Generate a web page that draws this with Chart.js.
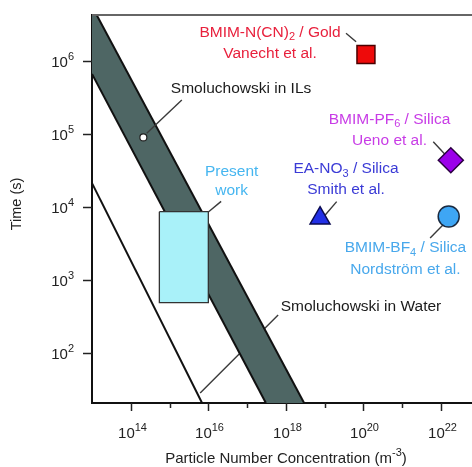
<!DOCTYPE html>
<html>
<head>
<meta charset="utf-8">
<script src="https://cdn.jsdelivr.net/npm/chart.js@4.4.0/dist/chart.umd.min.js"></script>
<style>
  html, body { margin: 0; padding: 0; background: #fff; }
</style>
</head>
<body>
<canvas id="grafico" width="472" height="467"></canvas>
<script>
// ejes (exponentes de 10)
var xTicksExp = [14, 15, 16, 17, 18, 19, 20, 21, 22];
var yTicksExp = [2, 3, 4, 5, 6];
var xRange = [1.0e13, 6.3e22];
var yRange = [20.8, 4.34e6];

// Smoluchowski en ILs (banda)
var ilsUpper = [[1.32e13, 4.34e6], [2.95e18, 20.8]];
var ilsLower = [[1.0e13, 6.76e5], [3.05e17, 20.8]];
var ilsBand = [[1.0e13, 4.34e6], [1.32e13, 4.34e6], [2.95e18, 20.8], [3.05e17, 20.8], [1.0e13, 6.76e5], [1.0e13, 4.34e6]];
var ilsDot = [[2.11e14, 9.1e4]];

// Smoluchowski en agua
var waterLine = [[1.0e13, 2.15e4], [6.9e15, 20.8]];

// este trabajo
var presentBox = [[5.46e14, 8.73e3], [1.0e16, 8.73e3], [1.0e16, 494], [5.46e14, 494], [5.46e14, 8.73e3]];

// literatura: Vanecht, Ueno, Smith, Nordstrom
var litX = [1.16e20, 1.79e22, 7.6e18, 1.58e22];
var litY = [1.25e6, 4.43e4, 7.1e3, 7.5e3];

// lineas guia de las etiquetas
var leaderIls = [[2.58e14, 1.04e5], [2.07e15, 2.96e5]];
var leaderVanecht = [[3.55e19, 2.44e6], [6.46e19, 1.87e6]];
var leaderUeno = [[6.31e21, 7.96e4], [1.26e22, 5.35e4]];
var leaderSmith = [[2.04e19, 1.2e4], [1.02e19, 7.8e3]];
var leaderNordstrom = [[1.12e22, 5.74e3], [5.25e21, 3.8e3]];
var leaderPresent = [[1.0e16, 8.63e3], [2.14e16, 1.21e4]];
var leaderWater = [[6.31e17, 335], [6.17e15, 28.6]];

var FUENTE = '"Liberation Sans", Arial, sans-serif';

function pts(arr) {
    return arr.map(function (p) { return { x: p[0], y: p[1] }; });
}

// etiquetas de texto (x, y = centro de la primera linea)
var etiquetas = [
    { x: 3.9e17, y: 2.48e6, color: '#e8203c', gap: 21,
      lines: [[['BMIM-N(CN)', 'n'], ['2', 'sub'], [' / Gold', 'n']], [['Vanecht et al.', 'n']]] },
    { x: 6.98e16, y: 4.27e5, color: '#1a1a1a', gap: 21,
      lines: [[['Smoluchowski in ILs', 'n']]] },
    { x: 4.7e20, y: 1.6e5, color: '#c83ce6', gap: 21.5,
      lines: [[['BMIM-PF', 'n'], ['6', 'sub'], [' / Silica', 'n']], [['Ueno et al.', 'n']]] },
    { x: 3.98e16, y: 3.08e4, color: '#46b6f0', gap: 18.5,
      lines: [[['Present', 'n']], [['work', 'n']]] },
    { x: 3.55e19, y: 3.36e4, color: '#3b3bd6', gap: 21,
      lines: [[['EA-NO', 'n'], ['3', 'sub'], [' / Silica', 'n']], [['Smith et al.', 'n']]] },
    { x: 1.21e21, y: 2.77e3, color: '#48a8ec', gap: 22,
      lines: [[['BMIM-BF', 'n'], ['4', 'sub'], [' / Silica', 'n']], [['Nordström et al.', 'n']]] },
    { x: 8.65e19, y: 432, color: '#1a1a1a', gap: 21,
      lines: [[['Smoluchowski in Water', 'n']]] }
];

function textoRico(ctx, partes, cx, cy, size, color, align) {
    var small = Math.round(size * 0.72);
    var anchos = [];
    var total = 0;
    partes.forEach(function (p) {
        ctx.font = (p[1] === 'n' ? size : small) + 'px ' + FUENTE;
        var w = ctx.measureText(p[0]).width;
        anchos.push(w);
        total += w;
    });
    var x = align === 'right' ? cx - total : cx - total / 2;
    ctx.fillStyle = color;
    ctx.textBaseline = 'middle';
    ctx.textAlign = 'left';
    partes.forEach(function (p, i) {
        var dy = 0;
        if (p[1] === 'sub') dy = size * 0.3;
        if (p[1] === 'sup') dy = -size * 0.42;
        ctx.font = (p[1] === 'n' ? size : small) + 'px ' + FUENTE;
        ctx.fillText(p[0], x, cy + dy);
        x += anchos[i];
    });
}

var decoracion = {
    id: 'decoracion',
    afterDraw: function (chart) {
        var ctx = chart.ctx;
        var area = chart.chartArea;
        var xs = chart.scales.x;
        var ys = chart.scales.y;
        ctx.save();

        // borde superior
        ctx.strokeStyle = '#666';
        ctx.lineWidth = 2;
        ctx.beginPath();
        ctx.moveTo(area.left, area.top);
        ctx.lineTo(area.right, area.top);
        ctx.stroke();

        // marcas del eje x
        ctx.strokeStyle = '#222';
        ctx.lineWidth = 1.5;
        xTicksExp.forEach(function (e) {
            var px = Math.round(xs.getPixelForValue(Math.pow(10, e))) + 0.5;
            var largo = e % 2 === 0 ? 8 : 5;
            ctx.beginPath();
            ctx.moveTo(px, area.bottom);
            ctx.lineTo(px, area.bottom + largo);
            ctx.stroke();
            if (e % 2 === 0) {
                textoRico(ctx, [['10', 'n'], [String(e), 'sup']], px + 1, area.bottom + 31, 15, '#222', 'center');
            }
        });

        // marcas del eje y
        yTicksExp.forEach(function (e) {
            var py = Math.round(ys.getPixelForValue(Math.pow(10, e))) + 0.5;
            ctx.beginPath();
            ctx.moveTo(area.left - 9, py);
            ctx.lineTo(area.left, py);
            ctx.stroke();
            textoRico(ctx, [['10', 'n'], [String(e), 'sup']], 74, py + 1.5, 15, '#222', 'right');
        });

        // titulos de ejes
        textoRico(ctx, [['Particle Number Concentration (m', 'n'], ['-3', 'sup'], [')', 'n']], 286, 459, 15, '#222', 'center');
        ctx.save();
        ctx.translate(17, 204);
        ctx.rotate(-Math.PI / 2);
        textoRico(ctx, [['Time (s)', 'n']], 0, 0, 14.5, '#222', 'center');
        ctx.restore();

        // etiquetas
        etiquetas.forEach(function (et) {
            var cx = xs.getPixelForValue(et.x);
            var cy = ys.getPixelForValue(et.y);
            et.lines.forEach(function (linea, i) {
                textoRico(ctx, linea, cx, cy + i * et.gap, 15.5, et.color, 'center');
            });
        });
        ctx.restore();
    }
};

function lineaGuia(arr, orden) {
    return {
        data: pts(arr), borderColor: '#3a3a3a', borderWidth: 1.4,
        pointRadius: 0, fill: false, order: orden
    };
}

var datos = {
    datasets: [
        lineaGuia(leaderWater, 20),
        {
            data: pts(ilsBand), borderColor: 'rgba(0,0,0,0)', borderWidth: 1,
            backgroundColor: '#4e6664', fill: 'shape', pointRadius: 0, order: 19
        },
        { data: pts(ilsUpper), borderColor: '#111', borderWidth: 2, pointRadius: 0, fill: false, order: 18 },
        { data: pts(ilsLower), borderColor: '#111', borderWidth: 2, pointRadius: 0, fill: false, order: 18 },
        { data: pts(waterLine), borderColor: '#111', borderWidth: 2, pointRadius: 0, fill: false, order: 18 },
        {
            data: pts(presentBox), borderColor: '#333', borderWidth: 1.3,
            backgroundColor: '#a9f1f9', fill: 'shape', pointRadius: 0, order: 17
        },
        lineaGuia(leaderIls, 16),
        lineaGuia(leaderVanecht, 16),
        lineaGuia(leaderUeno, 16),
        lineaGuia(leaderSmith, 16),
        lineaGuia(leaderNordstrom, 16),
        lineaGuia(leaderPresent, 16),
        {
            data: litX.map(function (x, i) { return { x: x, y: litY[i] }; }),
            showLine: false, order: 15,
            pointStyle: ['rect', 'rectRot', 'triangle', 'circle'],
            pointRadius: [12.7, 12.5, 11.5, 10.5],
            pointBackgroundColor: ['#ee0a0a', '#9b00ea', '#2230e6', '#3ea6f4'],
            pointBorderColor: ['#4a0000', '#2a0040', '#0a0a50', '#1a2a40'],
            pointBorderWidth: 1.5
        },
        {
            data: pts(ilsDot), showLine: false, order: 14,
            pointStyle: 'circle', pointRadius: 3.5,
            pointBackgroundColor: '#fff', pointBorderColor: '#222', pointBorderWidth: 1.2
        }
    ]
};

var opciones = {
    responsive: false,
    animation: false,
    events: [],
    layout: { autoPadding: false, padding: { top: 15, left: 0, right: 0, bottom: 0 } },
    plugins: { legend: { display: false }, tooltip: { enabled: false } },
    scales: {
        x: {
            type: 'logarithmic', min: xRange[0], max: xRange[1],
            grid: { display: false },
            border: { display: true, color: '#111', width: 2 },
            ticks: { display: false },
            afterBuildTicks: function (scale) {
                scale.ticks = xTicksExp.map(function (e) { return { value: Math.pow(10, e) }; });
            },
            afterFit: function (scale) { scale.height = 64; }
        },
        y: {
            type: 'logarithmic', min: yRange[0], max: yRange[1],
            grid: { display: false },
            border: { display: true, color: '#111', width: 2 },
            ticks: { display: false },
            afterBuildTicks: function (scale) {
                scale.ticks = yTicksExp.map(function (e) { return { value: Math.pow(10, e) }; });
            },
            afterFit: function (scale) { scale.width = 92; }
        }
    }
};

var myChart = new Chart(document.getElementById('grafico').getContext('2d'), {
    type: 'line',
    data: datos,
    options: opciones,
    plugins: [decoracion]
});
</script>
</body>
</html>
